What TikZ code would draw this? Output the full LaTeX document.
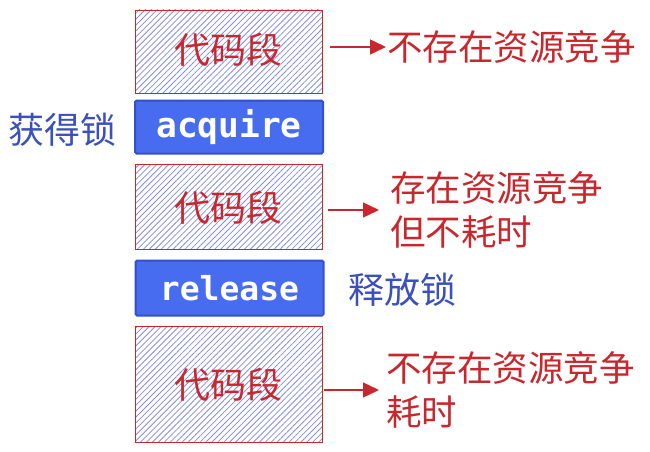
\documentclass[tikz,border=0pt]{standalone}
\usepackage{fontspec}
\newfontfamily\cjk{Noto Sans CJK SC}
\newfontfamily\codefont{DejaVu Sans Mono}
\usetikzlibrary{patterns.meta,arrows.meta}
\definecolor{myred}{RGB}{200,40,45}
\definecolor{lblblue}{RGB}{60,80,185}
\definecolor{lockfill}{RGB}{72,108,240}
\definecolor{lockdraw}{RGB}{50,80,205}
\definecolor{hatch}{RGB}{130,142,225}
\tikzset{
  codebox/.style={draw=myred, line width=0.8pt, minimum width=187pt, inner sep=0pt,
    pattern={Lines[angle=45,distance=4.2pt,line width=0.8pt]}, pattern color=hatch},
  codetxt/.style={text=myred, font=\cjk\fontsize{36}{40}\selectfont, inner sep=0pt},
  lockbox/.style={draw=lockdraw, fill=lockfill, line width=2pt, rounded corners=1.5pt,
    minimum width=188pt, inner sep=0pt, text=white},
  note/.style={text=myred, font=\cjk\fontsize{35.5}{44}\selectfont, align=left, inner sep=0pt, anchor=west},
  lbl/.style={text=lblblue, font=\cjk\fontsize{36}{40}\selectfont, inner sep=0pt},
  arr/.style={draw=myred, line width=1.3pt, -{Triangle[length=16pt,width=15pt]}}
}
\begin{document}
\begin{tikzpicture}[x=1pt,y=-1pt]
\useasboundingbox (0,0) rectangle (650,452);
% boxes
\node[codebox, minimum height=83pt] (b1) at (228.5,51.5) {};
\node[codetxt] (c1) at (228.5,50) {代码段};
\node[lockbox, minimum height=53pt] (acq) at (229,127) {\codefont\bfseries\fontsize{34.5}{36}\selectfont acquire};
\node[codebox, minimum height=85pt] (b2) at (228.5,206.5) {};
\node[codetxt] (c2) at (228.5,208) {代码段};
\node[lockbox, minimum height=55pt] (rel) at (229.5,288) {\codefont\bfseries\fontsize{33}{34}\selectfont release};
\node[codebox, minimum height=116pt] (b3) at (228.5,384) {};
\node[codetxt] (c3) at (228.5,385) {代码段};
% side labels
\node[lbl] (get) at (63,130) {获得锁};
\node[lbl] (put) at (402,290) {释放锁};
% notes
\node[note] (t1) at (387,47) {不存在资源竞争};
\node[note] (t2) at (390,210) {存在资源竞争\\但不耗时};
\node[note] (t3) at (386,390) {不存在资源竞争\\耗时};
% arrows
\draw[arr] ([xshift=8pt]b1.east |- t1.west) -- ([xshift=-1pt]t1.west);
\draw[arr] ([xshift=6pt]b2.east |- t2.west) -- ([xshift=-11pt]t2.west);
\draw[arr] ([xshift=2pt]b3.east |- t3.west) -- ([xshift=-7pt]t3.west);
\end{tikzpicture}
\end{document}
